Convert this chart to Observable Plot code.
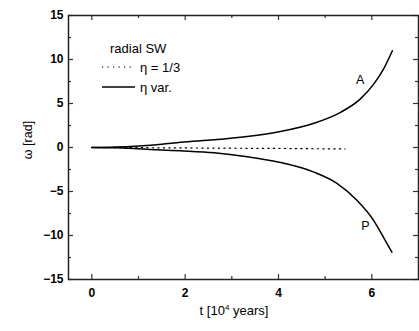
<!DOCTYPE html>
<html><head><meta charset="utf-8">
<script src="https://cdn.jsdelivr.net/npm/d3@7"></script>
<script src="https://cdn.jsdelivr.net/npm/@observablehq/plot@0.6"></script>
<style>
body{margin:0;background:#fff;}
svg{font-family:Arial,"Liberation Sans",sans-serif;}
</style></head>
<body><div id="chart"></div>
<script>
const tA = [0, 0.5, 1, 1.5, 1.9, 2.62, 3.33, 4.04, 4.76, 5.33, 5.75, 6.04, 6.25, 6.44];
const omegaA = [0, 0.05, 0.18, 0.38, 0.6, 0.87, 1.25, 1.82, 2.76, 4.0, 5.5, 7.2, 8.9, 11.0];
const tP = [0, 0.5, 1, 1.5, 1.9, 2.62, 3.33, 4.04, 4.76, 5.26, 5.68, 6.04, 6.25, 6.43];
const omegaP = [0, -0.04, -0.15, -0.28, -0.38, -0.6, -1.05, -1.7, -2.8, -4.1, -6.0, -8.3, -10.2, -11.9];
const tDot = [0, 1, 2, 3, 4, 5, 5.43];
const omegaDot = [0, -0.02, -0.05, -0.08, -0.11, -0.15, -0.17];
const xMajor = [0, 2, 4, 6];
const xMinor = [1, 3, 5];
const yMajor = [-15, -10, -5, 0, 5, 10, 15];
const yMinor = [-12.5, -7.5, -2.5, 2.5, 7.5, 12.5];
const legendTitle = "radial SW";
const legendLabels = ["η = 1/3", "η var."];
const curveLabels = [{t: 5.75, w: 7.7, s: "A"}, {t: 5.86, w: -8.9, s: "P"}];

const A = tA.map((t, i) => ({t, w: omegaA[i]}));
const P = tP.map((t, i) => ({t, w: omegaP[i]}));
const D = tDot.map((t, i) => ({t, w: omegaDot[i]}));

const X0 = -0.5, X1 = 7, Y0 = -15, Y1 = 15;
const pxX = (X1 - X0) / 350, pxY = (Y1 - Y0) / 264;

const plot = Plot.plot({
  width: 419, height: 331,
  marginLeft: 68, marginRight: 1, marginTop: 15, marginBottom: 52,
  x: {domain: [X0, X1]},
  y: {domain: [Y0, Y1]},
  style: {fontFamily: 'Arial,"Liberation Sans",sans-serif', color: "#000"},
  marks: [
    Plot.line(D, {x: "t", y: "w", stroke: "#000", strokeWidth: 1.2, strokeDasharray: "1.3,4.2"}),
    Plot.line(A, {x: "t", y: "w", stroke: "#000", strokeWidth: 1.5, curve: "monotone-x"}),
    Plot.line(P, {x: "t", y: "w", stroke: "#000", strokeWidth: 1.5, curve: "monotone-x"}),
    Plot.text(curveLabels, {x: "t", y: "w", text: "s", fontSize: 12.5, fill: "#000"}),
    // inward ticks
    Plot.ruleX(xMajor, {x: d => d, y1: Y0, y2: Y0 + 5 * pxY, stroke: "#333", strokeWidth: 1.2}),
    Plot.ruleX(xMinor, {x: d => d, y1: Y0, y2: Y0 + 3 * pxY, stroke: "#333", strokeWidth: 1.2}),
    Plot.ruleX(xMajor, {x: d => d, y1: Y1, y2: Y1 - 5 * pxY, stroke: "#333", strokeWidth: 1.2}),
    Plot.ruleX(xMinor, {x: d => d, y1: Y1, y2: Y1 - 3 * pxY, stroke: "#333", strokeWidth: 1.2}),
    Plot.ruleY(yMajor, {y: d => d, x1: X0, x2: X0 + 5 * pxX, stroke: "#333", strokeWidth: 1.2}),
    Plot.ruleY(yMinor, {y: d => d, x1: X0, x2: X0 + 3 * pxX, stroke: "#333", strokeWidth: 1.2}),
    Plot.ruleY(yMajor, {y: d => d, x1: X1, x2: X1 - 5 * pxX, stroke: "#333", strokeWidth: 1.2}),
    Plot.ruleY(yMinor, {y: d => d, x1: X1, x2: X1 - 3 * pxX, stroke: "#333", strokeWidth: 1.2}),
    Plot.axisX({ticks: xMajor, tickSize: 0, tickPadding: 9, label: null, fontSize: 12, fontWeight: "bold"}),
    Plot.axisY({ticks: yMajor, tickSize: 0, tickPadding: 5, label: null, fontSize: 12, fontWeight: "bold"}),
    Plot.frame({stroke: "#222", strokeWidth: 1.5})
  ]
});
document.getElementById("chart").appendChild(plot);

const svg = d3.select(plot);
// axis labels
const xl = svg.append("text").attr("x", 234).attr("y", 315).attr("text-anchor", "middle")
  .attr("font-size", 13).attr("fill", "#000");
xl.append("tspan").text("t [10");
xl.append("tspan").attr("font-size", 8).attr("dy", -5).text("4");
xl.append("tspan").attr("dy", 5).text(" years]");
svg.append("text").attr("transform", "translate(32,140) rotate(-90)").attr("text-anchor", "middle")
  .attr("font-size", 12.5).attr("fill", "#000").text("ω [rad]");
// legend
const lg = svg.append("g").attr("font-size", 13).attr("fill", "#000").attr("text-anchor", "start");
lg.append("text").attr("x", 110).attr("y", 53).text(legendTitle);
lg.append("line").attr("x1", 102).attr("x2", 135).attr("y1", 67).attr("y2", 67)
  .attr("stroke", "#000").attr("stroke-width", 1.2).attr("stroke-dasharray", "1.3,4.2");
lg.append("text").attr("x", 140).attr("y", 71.5).text(legendLabels[0]);
lg.append("line").attr("x1", 102).attr("x2", 135).attr("y1", 87).attr("y2", 87)
  .attr("stroke", "#000").attr("stroke-width", 1.3);
lg.append("text").attr("x", 140).attr("y", 91.5).text(legendLabels[1]);
</script></body></html>
